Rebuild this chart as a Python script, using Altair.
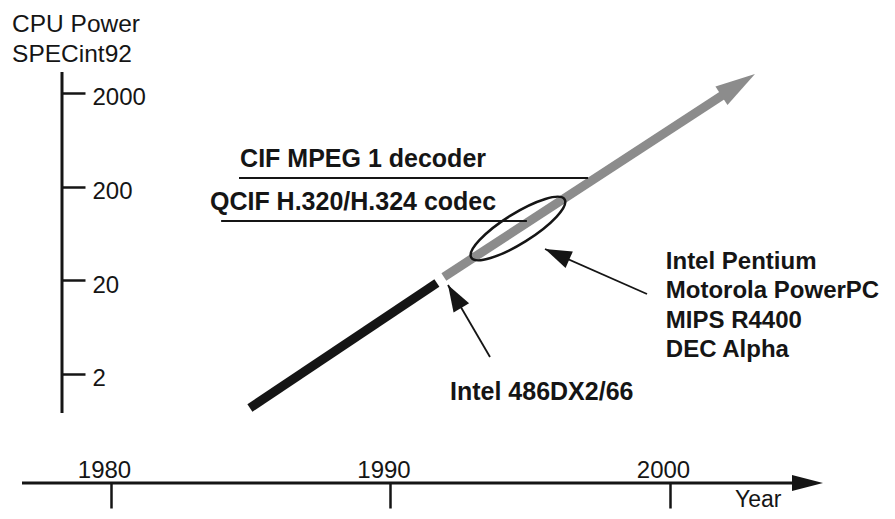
import altair as alt
import pandas as pd

# ---------------- data ----------------
x_tick_years = [1980, 1990, 2000]
y_tick_specs = [2, 20, 200, 2000]

# CPU power trend (year, SPECint92)
trend_486_years = [1984.97, 1991.66]
trend_486_specs = [0.855, 18.57]
trend_new_years = [1991.91, 2002.44]
trend_new_specs = [21.54, 2441]
trend_tip = {"year": [2003.04], "spec": [3194]}

# codec requirement levels
codec_labels = ["CIF MPEG 1 decoder", "QCIF H.320/H.324 codec"]
codec_specs = [246.6, 85.5]
codec_from_years = [1984.58, 1983.94]
codec_to_years = [1997.07, 1994.88]
codec_label_years = [1984.62, 1983.54]
codec_label_specs = [323.2, 112.1]

new_cpus = ["Intel Pentium", "Motorola PowerPC", "MIPS R4400", "DEC Alpha"]
old_cpu = ["Intel 486DX2/66"]
axis_title_y = ["CPU Power", "SPECint92"]
axis_title_x = ["Year"]

# ---------------- styles ----------------
INK = "#151515"
GRAY = "#8c8c8c"
FONT = "Liberation Sans"

ARROW = "M0,0 L-2,-0.55 L-2,0.55 Z"
POINTER = "M0,0 L-2,-0.68 L-2,0.68 Z"
AXIS_ARROW = "M0,0 L-2,-0.52 L-2,0.52 Z"
K = 0.27
C = 0.5523 * K
ELLIPSE = (f"M1,0 C1,{C} 0.5523,{K} 0,{K} C-0.5523,{K} -1,{C} -1,0 "
           f"C-1,-{C} -0.5523,-{K} 0,-{K} C0.5523,-{K} 1,-{C} 1,0 Z")

xscale = alt.Scale(domain=[1976.315, 2007.764], zero=False, nice=False)
yscale = alt.Scale(type="log", domain=[0.0677, 16220], nice=False)

xaxis = alt.Axis(values=x_tick_years, orient="bottom", offset=-28, domain=False,
                 grid=False, ticks=True, tickSize=25, tickWidth=2.5, tickColor=INK,
                 labelFont=FONT, labelFontSize=24, labelColor=INK, labelPadding=-31,
                 labelBaseline="alphabetic", labelAlign="center", labelOffset=-7,
                 labelFlush=False, labelOverlap=False, format="d", title=None)
yaxis = alt.Axis(values=y_tick_specs, orient="right", offset=-825, domain=False,
                 grid=False, ticks=True, tickSize=23, tickWidth=2.5, tickColor=INK,
                 labelFont=FONT, labelFontSize=24, labelColor=INK, labelPadding=7,
                 labelBaseline="middle", labelAlign="left", labelOffset=5,
                 labelOverlap=False, format="d", title=None)


def X(f):
    return alt.X(f, type="quantitative", scale=xscale, axis=xaxis)


def Y(f):
    return alt.Y(f, type="quantitative", scale=yscale, axis=yaxis)


# ---------------- layers ----------------
old_line = alt.Chart(pd.DataFrame({"year": trend_486_years, "spec": trend_486_specs})).mark_line(
    color=INK, strokeWidth=9, strokeCap="butt"
).encode(x=X("year"), y=Y("spec"))

new_line = alt.Chart(pd.DataFrame({"year": trend_new_years, "spec": trend_new_specs})).mark_line(
    color=GRAY, strokeWidth=9, strokeCap="butt"
).encode(x=X("year"), y=Y("spec"))

new_head = alt.Chart(pd.DataFrame(trend_tip)).mark_point(
    shape=ARROW, filled=True, size=1600, angle=326.9, color=GRAY, opacity=1, strokeWidth=0
).encode(x=X("year"), y=Y("spec"))

# custom axis lines
yaxis_line = alt.Chart(pd.DataFrame({"year": [1978.247], "lo": [0.756], "hi": [3354]})).mark_rule(
    color=INK, strokeWidth=3
).encode(x=X("year"), y=Y("lo"), y2="hi")

xaxis_line = alt.Chart(pd.DataFrame({"a": [1976.816], "b": [2004.65], "spec": [0.1349]})).mark_rule(
    color=INK, strokeWidth=3
).encode(x=X("a"), x2="b", y=Y("spec"))

xaxis_head = alt.Chart(pd.DataFrame({"year": [2005.474], "spec": [0.1349]})).mark_point(
    shape=AXIS_ARROW, filled=True, size=961, color=INK, opacity=1, strokeWidth=0
).encode(x=X("year"), y=Y("spec"))

codec_df = pd.DataFrame({
    "label": codec_labels, "spec": codec_specs,
    "x0": codec_from_years, "x1": codec_to_years,
    "lx": codec_label_years, "ly": codec_label_specs,
})
codec_rules = alt.Chart(codec_df).mark_rule(color=INK, strokeWidth=2.2).encode(
    x=X("x0"), x2="x1", y=Y("spec"))
codec_text = alt.Chart(codec_df).mark_text(
    align="left", baseline="alphabetic", font=FONT, fontSize=25, fontWeight="bold", color=INK
).encode(x=X("lx"), y=Y("ly"), text="label:N")

ellipse = alt.Chart(pd.DataFrame({"year": [1994.56], "spec": [71.1]})).mark_point(
    shape=ELLIPSE, filled=False, size=12100, angle=328, color=INK, opacity=1, strokeWidth=2.5
).encode(x=X("year"), y=Y("spec"))

# pointers
p1 = alt.Chart(pd.DataFrame({"x0": [1999.177], "y0": [14.17], "x1": [1995.528], "y1": [42.9]}))
pointer1 = p1.mark_rule(color=INK, strokeWidth=1.8).encode(x=X("x0"), y=Y("y0"), x2="x1", y2="y1")
head1 = p1.mark_point(shape=POINTER, filled=True, size=700, angle=203.8, color=INK,
                      opacity=1, strokeWidth=0).encode(x=X("x1"), y=Y("y1"))

p2 = alt.Chart(pd.DataFrame({"x0": [1993.56], "y0": [3.00], "x1": [1992.057], "y1": [17.68]}))
pointer2 = p2.mark_rule(color=INK, strokeWidth=1.8).encode(x=X("x0"), y=Y("y0"), x2="x1", y2="y1")
head2 = p2.mark_point(shape=POINTER, filled=True, size=700, angle=239.7, color=INK,
                      opacity=1, strokeWidth=0).encode(x=X("x1"), y=Y("y1"))

cpu_text = alt.Chart(pd.DataFrame({"year": [1999.85], "spec": [26.23], "t": ["\n".join(new_cpus)]})).mark_text(
    align="left", baseline="alphabetic", font=FONT, fontSize=24, fontWeight="bold", color=INK,
    lineBreak="\n", lineHeight=29.3
).encode(x=X("year"), y=Y("spec"), text="t:N")

old_text = alt.Chart(pd.DataFrame({"year": [1992.129], "spec": [1.041], "t": old_cpu})).mark_text(
    align="left", baseline="alphabetic", font=FONT, fontSize=25, fontWeight="bold", color=INK
).encode(x=X("year"), y=Y("spec"), text="t:N")

ytitle = alt.Chart(pd.DataFrame({"year": [1976.46], "spec": [8983], "t": ["\n".join(axis_title_y)]})).mark_text(
    align="left", baseline="alphabetic", font=FONT, fontSize=24.5, color=INK,
    lineBreak="\n", lineHeight=30
).encode(x=X("year"), y=Y("spec"), text="t:N")

xtitle = alt.Chart(pd.DataFrame({"year": [2002.326], "spec": [0.0753], "t": axis_title_x})).mark_text(
    align="left", baseline="alphabetic", font=FONT, fontSize=23, color=INK
).encode(x=X("year"), y=Y("spec"), text="t:N")

chart = alt.layer(
    old_line, new_line, new_head, yaxis_line, xaxis_line, xaxis_head,
    codec_rules, codec_text, ellipse, pointer1, head1, pointer2, head2,
    cpu_text, old_text, ytitle, xtitle,
).properties(
    width=879, height=503, padding=0,
    autosize=alt.AutoSizeParams(type="none"),
    background="white",
).configure_view(stroke=None)

chart.save("out.html", embed_options={"renderer": "svg", "actions": False})
